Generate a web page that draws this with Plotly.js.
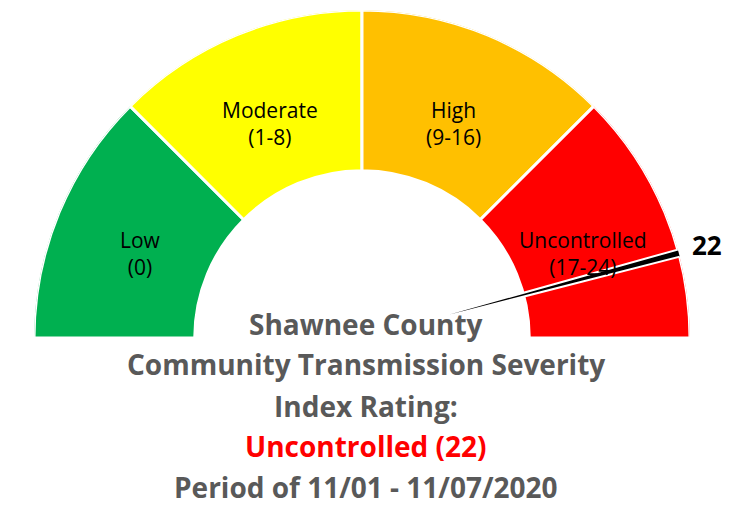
<!DOCTYPE html>
<html>
<head>
<meta charset="utf-8">
<script src="https://cdn.plot.ly/plotly-3.0.1.min.js"></script>
<style>html,body{margin:0;padding:0;background:#fff;}#chart{width:730px;height:513px;}</style>
</head>
<body>
<div id="chart"></div>
<script>
// ---- data ----
const categories = ['Low', 'Moderate', 'High', 'Uncontrolled'];
const rangeLabels = ['(0)', '(1-8)', '(9-16)', '(17-24)'];
const bandColors = ['#00B050', '#FFFF00', '#FFC000', '#FF0000'];
const scaleMin = 0;
const scaleMax = 24;
const needleValue = 22;
const needleCategory = 'Uncontrolled';
const titleLines = ['Shawnee County', 'Community Transmission Severity', 'Index Rating:'];
const periodLine = 'Period of 11/01 - 11/07/2020';

// ---- geometry ----
const W = 730, H = 513;
const cx = 362, cy = 338, R = 328;
const nBands = categories.length;
const bandSpan = 180 / nBands;
const bandTheta = categories.map((c, i) => 180 - bandSpan * (i + 0.5));
const innerR = 0.51;
const needleTheta = 180 - 180 * (needleValue - scaleMin) / (scaleMax - scaleMin);
const rad = d => d * Math.PI / 180;

const FONT = '"Open Sans", Lato, sans-serif';

const bands = {
  type: 'barpolar',
  theta: bandTheta,
  r: categories.map(() => 1 - innerR),
  base: innerR,
  width: categories.map(() => bandSpan),
  marker: { color: bandColors, line: { color: '#ffffff', width: 3 } },
  hoverinfo: 'skip',
  showlegend: false
};

const needleBase = 0.24;
const needle = {
  type: 'barpolar',
  theta: [needleTheta],
  r: [1.03 - needleBase],
  base: needleBase,
  width: [1.3],
  marker: { color: '#000000', line: { color: '#ffffff', width: 2 } },
  hoverinfo: 'skip',
  showlegend: false
};

// band labels, placed from the band centre angles
const labelR = 0.73;
const bandAnnotations = categories.map((c, i) => ({
  xref: 'paper', yref: 'paper',
  x: (cx + labelR * R * Math.cos(rad(bandTheta[i]))) / W,
  y: 1 - (cy - labelR * R * Math.sin(rad(bandTheta[i]))) / H,
  yshift: -7,
  xanchor: 'center', yanchor: 'middle',
  text: c + '<br>' + rangeLabels[i],
  showarrow: false,
  font: { family: FONT, size: 21, color: '#000000' }
}));

// needle value label
const valueR = 1.09;
const valueAnnotation = {
  xref: 'paper', yref: 'paper',
  x: (cx + valueR * R * Math.cos(rad(needleTheta))) / W,
  y: 1 - (cy - valueR * R * Math.sin(rad(needleTheta))) / H,
  xanchor: 'center', yanchor: 'middle',
  text: '<b>' + needleValue + '</b>',
  showarrow: false,
  font: { family: FONT, size: 26, color: '#000000' }
};

const lineY = [324, 364, 406, 446, 487];
const grey = '#595959';
const allLines = titleLines.concat([needleCategory + ' (' + needleValue + ')', periodLine]);
const lineColors = [grey, grey, grey, '#FF0000', grey];
const titleAnnotations = allLines.map((t, i) => ({
  xref: 'paper', yref: 'paper',
  x: 366 / W, y: 1 - lineY[i] / H,
  xanchor: 'center', yanchor: 'middle',
  text: '<b>' + t + '</b>',
  showarrow: false,
  font: { family: FONT, size: 28, color: lineColors[i] }
}));

const layout = {
  width: W, height: H,
  margin: { l: 0, r: 0, t: 0, b: 0 },
  paper_bgcolor: '#ffffff',
  plot_bgcolor: '#ffffff',
  showlegend: false,
  polar: {
    domain: { x: [(cx - R) / W, (cx + R) / W], y: [1 - cy / H, 1 - (cy - R) / H] },
    sector: [0, 180],
    bgcolor: 'rgba(0,0,0,0)',
    radialaxis: { visible: false, range: [0, 1] },
    angularaxis: { visible: false, direction: 'counterclockwise', rotation: 0 }
  },
  annotations: bandAnnotations.concat([valueAnnotation], titleAnnotations)
};

Plotly.newPlot('chart', [bands, needle], layout, { displayModeBar: false, staticPlot: true });
</script>
</body>
</html>
